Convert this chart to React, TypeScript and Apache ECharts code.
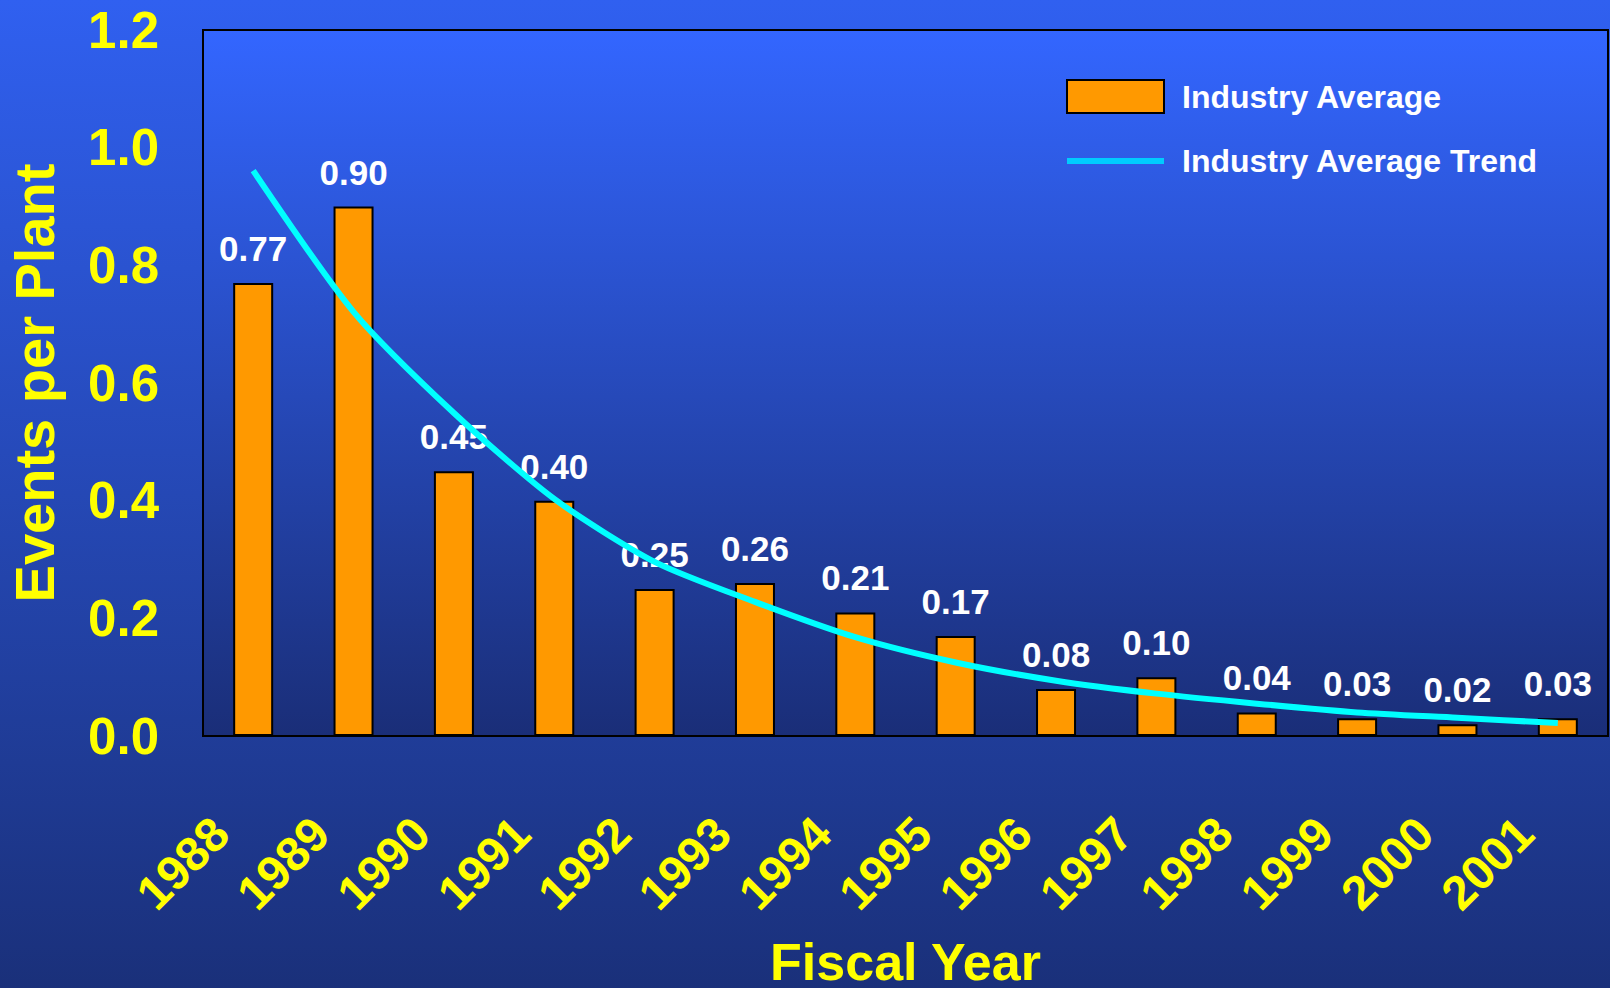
import React, { useEffect, useRef } from "react";
import * as echarts from "echarts";

const years = ["1988", "1989", "1990", "1991", "1992", "1993", "1994", "1995", "1996", "1997", "1998", "1999", "2000", "2001"];
const industryAverage = [0.77, 0.9, 0.45, 0.4, 0.25, 0.26, 0.21, 0.17, 0.08, 0.1, 0.04, 0.03, 0.02, 0.03];
const industryTrend = [0.961, 0.721, 0.549, 0.403, 0.296, 0.228, 0.168, 0.125, 0.094, 0.072, 0.055, 0.04, 0.031, 0.022];
const yMin = 0;
const yMax = 1.2;
const yStep = 0.2;

const SANS = "'Liberation Sans', Arial, Helvetica, sans-serif";

export default function App() {
  const ref = useRef<HTMLDivElement>(null);
  useEffect(() => {
    document.body.style.margin = "0";
    const chart = echarts.init(ref.current!, null, { renderer: "svg" });
    chart.setOption({
      animation: false,
      backgroundColor: "transparent",
      grid: {
        left: 203,
        top: 30,
        right: 2,
        bottom: 252,
        outerBoundsMode: "none",
        containLabel: false,
        show: true,
        borderColor: "#000",
        borderWidth: 2,
        backgroundColor: {
          type: "linear",
          x: 0,
          y: 0,
          x2: 0,
          y2: 1,
          colorStops: [
            { offset: 0, color: "#3366FF" },
            { offset: 1, color: "#1A2E78" },
          ],
        },
      },
      legend: {
        orient: "vertical",
        left: 1061,
        top: 74,
        itemWidth: 97,
        itemHeight: 33,
        itemGap: 31,
        textStyle: {
          color: "#FFFFFF",
          fontFamily: SANS,
          fontWeight: "bold",
          fontSize: 32,
          padding: [0, 0, 0, 13],
        },
        data: [
          { name: "Industry Average", icon: "rect" },
          {
            name: "Industry Average Trend",
            icon: "path://M0,0H100V6H0Z",
            itemStyle: { color: "#00CCFF", borderWidth: 0 },
            lineStyle: { color: "#00CCFF", width: 6 },
          },
        ],
      },
      xAxis: {
        type: "category",
        data: years,
        axisLine: { show: true, lineStyle: { color: "#000", width: 2 } },
        axisTick: { show: false },
        axisLabel: {
          interval: 0,
          rotate: 45,
          color: "#FFFF00",
          fontFamily: SANS,
          fontWeight: "bold",
          fontSize: 48,
          margin: 57,
          padding: [0, 46, 0, 0],
        },
        name: "Fiscal Year",
        nameLocation: "middle",
        nameGap: 200,
        nameTextStyle: {
          color: "#FFFF00",
          fontFamily: SANS,
          fontWeight: "bold",
          fontSize: 52,
        },
      },
      yAxis: {
        type: "value",
        min: yMin,
        max: yMax,
        interval: yStep,
        axisLine: { show: true, lineStyle: { color: "#000", width: 2 } },
        axisTick: { show: false },
        splitLine: { show: false },
        axisLabel: {
          color: "#FFFF00",
          fontFamily: SANS,
          fontWeight: "bold",
          fontSize: 51,
          margin: 44,
          formatter: (v: number) => v.toFixed(1),
        },
        name: "Events per Plant",
        nameLocation: "middle",
        nameGap: 141,
        nameTextStyle: {
          color: "#FFFF00",
          fontFamily: SANS,
          fontWeight: "bold",
          fontSize: 56,
        },
      },
      series: [
        {
          name: "Industry Average",
          type: "bar",
          data: industryAverage,
          barWidth: 40,
          itemStyle: { color: "#FF9900", borderColor: "#000", borderWidth: 2 },
          label: {
            show: true,
            position: "top",
            distance: 17,
            color: "#FFFFFF",
            fontFamily: SANS,
            fontWeight: "bold",
            fontSize: 35,
            formatter: (p: any) => Number(p.value).toFixed(2),
          },
          z: 2,
        },
        {
          name: "Industry Average Trend",
          type: "line",
          data: industryTrend,
          smooth: 0.25,
          symbol: "none",
          lineStyle: { color: "#00FFFF", width: 6 },
          itemStyle: { color: "#00FFFF" },
          z: 3,
        },
      ],
    });
    return () => chart.dispose();
  }, []);
  return (
    <div
      ref={ref}
      style={{
        width: 1610,
        height: 988,
        background: "linear-gradient(to bottom, #3060F0, #1A307A)",
      }}
    />
  );
}
